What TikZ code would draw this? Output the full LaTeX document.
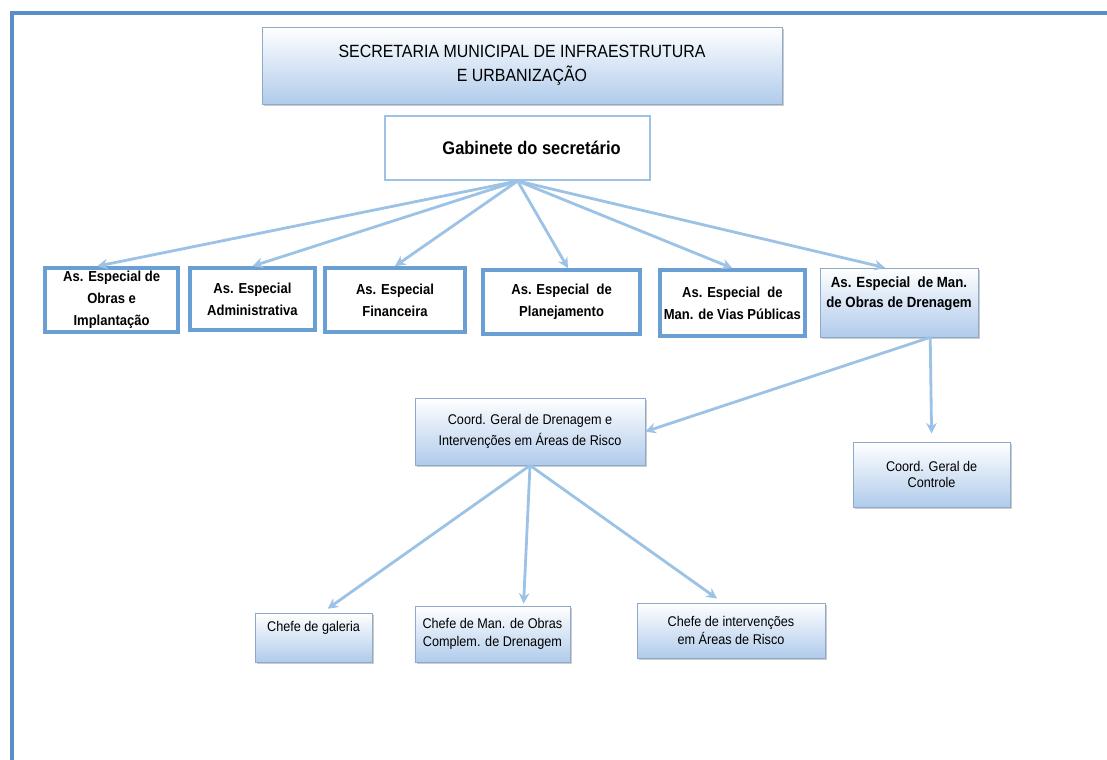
\documentclass[tikz,border=0pt]{standalone}
\usepackage{fontspec}
\setmainfont{Liberation Sans}[FakeStretch=0.9]
\usepackage{xcolor}
\usepackage{tikz}
\usetikzlibrary{arrows.meta, positioning, shadows}

\definecolor{framecol}{HTML}{5B8EC8}
\definecolor{edgecol}{HTML}{6A9FD3}
\definecolor{arrowcol}{HTML}{9CC2E5}
\definecolor{shadecol}{HTML}{B0CBEB}
\definecolor{thincol}{HTML}{8EAACB}

\begin{document}
\begin{tikzpicture}[
        rowbox/.style={rectangle, draw=edgecol, line width=2.6pt, fill=white, align=center, inner sep=2pt, font=\bfseries\fontsize{10.3}{15.5}\selectfont},
        shadebox/.style={rectangle, draw=thincol, line width=0.5pt, top color=white, bottom color=shadecol, drop shadow={shadow xshift=1.5pt, shadow yshift=-1.5pt, fill=black!40}, align=center, inner sep=2pt, font=\fontsize{10}{12.5}\selectfont},
        arrow/.style={-{Stealth[length=7.5pt, width=7.5pt]}, draw=arrowcol, line width=2pt}
    ]
        \useasboundingbox (0,0) rectangle (27.675,-19);
        % frame
        \draw[framecol, line width=2.8pt] (0.3,-19) -- (0.3,-0.325) -- (27.675,-0.325);

        \node[shadebox, minimum width=13cm, minimum height=1.925cm, font=\fontsize{12.6}{17}\selectfont] (sec) at (13.05,-1.6375) {SECRETARIA MUNICIPAL DE INFRAESTRUTURA\\E URBANIZAÇÃO};
        \node[rectangle, draw=arrowcol, line width=1.4pt, minimum width=6.625cm, minimum height=1.6cm, font=\bfseries\fontsize{13}{15}\selectfont] (gab) at (12.94,-3.7) {\hspace{0.7cm}Gabinete do secretário};

        \node[rowbox, minimum width=3.33cm, minimum height=1.6cm] (obras) at (2.79,-7.5) {As. Especial de\\Obras e\\Implantação};
        \node[rowbox, minimum width=3.125cm, minimum height=1.55cm] (adm) at (6.31,-7.475) {As. Especial\\Administrativa};
        \node[rowbox, minimum width=3.5cm, minimum height=1.6cm] (fin) at (9.875,-7.5) {As. Especial\\Financeira};
        \node[rowbox, minimum width=3.925cm, minimum height=1.6cm] (plan) at (14.04,-7.55) {As. Especial~ de\\Planejamento};
        \node[rowbox, minimum width=3.625cm, minimum height=1.65cm] (vias) at (18.31,-7.575) {As. Especial~ de\\Man. de Vias Públicas};
        \node[shadebox, minimum width=3.95cm, minimum height=1.725cm, font=\bfseries\fontsize{10.5}{14}\selectfont] (dren) at (22.475,-7.5625) {As. Especial~ de Man.\\de Obras de Drenagem\\[1pt]~};

        \node[shadebox, minimum width=5.75cm, minimum height=1.675cm, font=\fontsize{10}{15}\selectfont] (cdr) at (13.25,-10.79) {Coord. Geral de Drenagem e\\Intervenções em Áreas de Risco};
        \node[shadebox, minimum width=3.925cm, minimum height=1.625cm, font=\fontsize{10}{11.5}\selectfont] (cct) at (23.29,-11.86) {Coord. Geral de\\Controle};

        \node[shadebox, minimum width=2.925cm, minimum height=1.225cm, text depth=0.55cm] (gal) at (7.84,-15.94) {Chefe de galeria};
        \node[shadebox, minimum width=3.875cm, minimum height=1.4cm, font=\fontsize{10}{13}\selectfont] (comp) at (12.31,-15.85) {Chefe de Man. de Obras\\Complem. de Drenagem};
        \node[shadebox, minimum width=4.7cm, minimum height=1.375cm, font=\fontsize{10}{13}\selectfont] (risco) at (18.275,-15.76) {Chefe de intervenções\\em Áreas de Risco};

        % arrows from gabinete
        \draw[arrow] (gab.south) -- ([xshift=-0.36cm]obras.north);
        \draw[arrow] (gab.south) -- (adm.north);
        \draw[arrow] (gab.south) -- (fin.north);
        \draw[arrow] (gab.south) -- ([xshift=0.16cm]plan.north);
        \draw[arrow] (gab.south) -- (vias.north);
        \draw[arrow] (gab.south) -- ([xshift=-0.35cm]dren.north);

        \coordinate (split) at ([xshift=0.78cm]dren.south);
        \draw[arrow] (split) -- (cdr.east);
        \draw[arrow] (split) -- ([yshift=0.2cm]cct.north);

        \draw[arrow] (cdr.south) -- ([xshift=0.35cm, yshift=0.1cm]gal.north);
        \draw[arrow] (cdr.south) -- ([xshift=0.78cm, yshift=0.05cm]comp.north);
        \draw[arrow] (cdr.south) -- ([xshift=-0.35cm, yshift=0.1cm]risco.north);
    \end{tikzpicture}
\end{document}
